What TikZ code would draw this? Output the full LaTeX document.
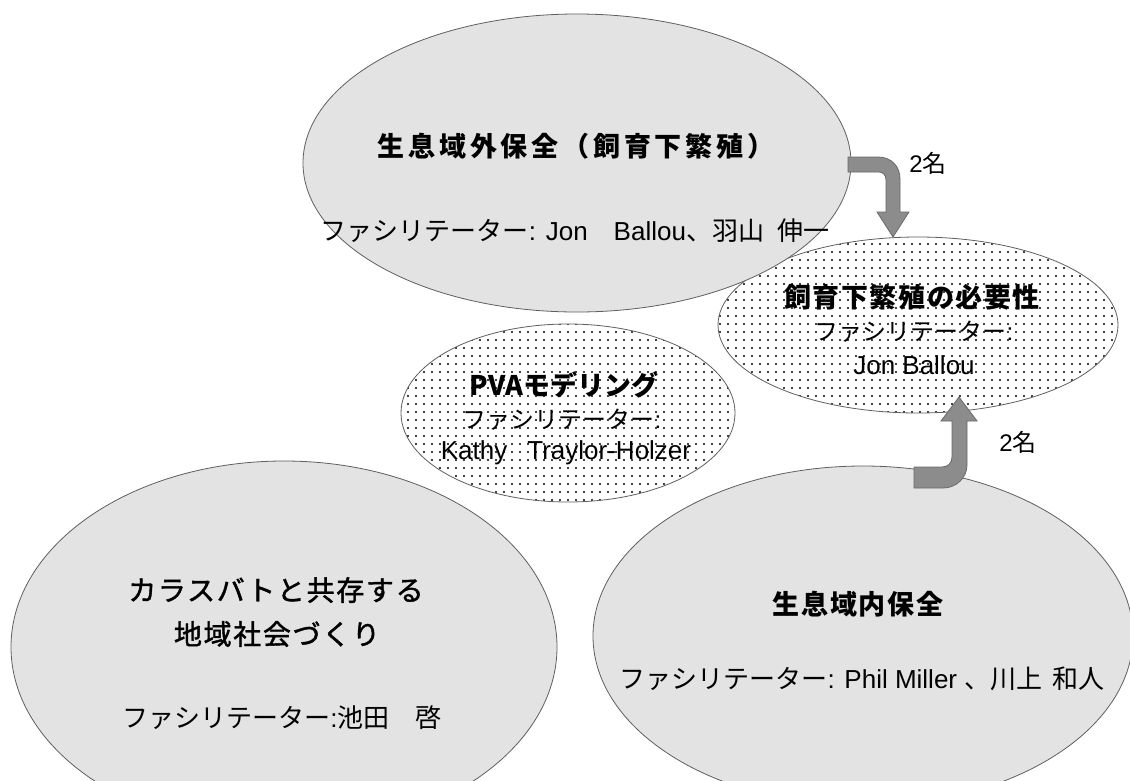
\documentclass[tikz,border=0pt]{standalone}
\usepackage{fontspec}
\setmainfont{Liberation Sans}
\newfontfamily\jp{Noto Sans CJK JP}
\newfontfamily\jpsp[LetterSpace=14]{Noto Sans CJK JP}
\newfontfamily\jpsm[LetterSpace=6]{Noto Sans CJK JP}
\newfontfamily\jpmed[LetterSpace=6,FakeBold=1.5]{Noto Sans CJK JP}
\usetikzlibrary{shapes.geometric,patterns.meta}
\definecolor{ellfill}{RGB}{227,227,227}
\definecolor{ellline}{RGB}{95,95,95}
\definecolor{arrfill}{RGB}{140,140,140}
\definecolor{arrline}{RGB}{105,105,105}
\tikzset{
  grayell/.style={ellipse, draw=ellline, line width=0.8pt, fill=ellfill, inner sep=0pt},
  dotell/.style={ellipse, draw=ellline, line width=0.8pt, inner sep=0pt,
    preaction={fill=white}, pattern={Dots[distance=8pt, radius=1.1pt]}},
  bigarrow/.style={draw=arrline, line width=0.8pt, fill=arrfill},
  txt/.style={inner sep=0pt, anchor=center, text=black},
}
\begin{document}
\begin{tikzpicture}[x=1pt,y=-1pt]
\useasboundingbox (0,0) rectangle (1130,780);
\fill[white] (0,0) rectangle (1130,780);
% ellipses
\node[dotell, minimum width=400pt, minimum height=176pt] (need) at (918,325) {};
\node[grayell, minimum width=548pt, minimum height=298pt] (ex) at (577,163) {};
\node[dotell, minimum width=334pt, minimum height=178pt] (pva) at (568,413) {};
\node[grayell, minimum width=546pt, minimum height=372pt] (com) at (284,647) {};
\node[grayell, minimum width=540pt, minimum height=340pt] (in) at (863,636) {};
% arrows
\draw[bigarrow] (848,157) -- (878,157) .. controls (891,157) and (900,166) .. (900,179)
  -- (900,212) -- (909,212) -- (893,237) -- (877,212) -- (886,212) -- (886,180)
  .. controls (886,175) and (883,172) .. (879,172) -- (848,172) -- cycle;
\draw[bigarrow] (914,467) -- (942,467) .. controls (948,467) and (952,463) .. (952,457)
  -- (952,421) -- (941,421) -- (959,397) -- (977,421) -- (967,421) -- (967,465)
  .. controls (967,478) and (956,488) .. (943,488) -- (914,488) -- cycle;
% texts: top ellipse
\node[txt, font={\jpsp\bfseries\fontsize{27}{30}\selectfont}] (exT) at (576,146) {生息域外保全（飼育下繁殖）};
\node[txt, font={\fontsize{26}{30}\selectfont}] (exF) at (575,231) {{\jp ファシリテーター}: Jon\hspace{26pt}Ballou{\jp 、羽山\hspace{13pt}伸一}};
% need
\node[txt, font={\jpsm\bfseries\fontsize{27}{30}\selectfont}] (needT) at (912,297) {飼育下繁殖の必要性};
\node[txt, font={\fontsize{24}{28}\selectfont}] (needF) at (914,332) {{\jp ファシリテーター}:};
\node[txt, font={\fontsize{26}{30}\selectfont}] (needN) at (914,365) {Jon Ballou};
% pva
\node[txt, font={\jp\bfseries\fontsize{27}{30}\selectfont}] (pvaT) at (564,385) {PVAモデリング};
\node[txt, font={\fontsize{24}{28}\selectfont}] (pvaF) at (562,420) {{\jp ファシリテーター}:};
\node[txt, font={\fontsize{26}{30}\selectfont}] (pvaN) at (566,453) {Kathy\hspace{20pt}Traylor-Holzer};
% community
\node[txt, font={\jpmed\fontsize{28}{30}\selectfont}] (comT1) at (276,590) {カラスバトと共存する};
\node[txt, font={\jpmed\fontsize{28}{30}\selectfont}] (comT2) at (277,634) {地域社会づくり};
\node[txt, font={\fontsize{26}{30}\selectfont}] (comF) at (282,718) {{\jp ファシリテーター}:{\jp 池田　啓}};
% in situ
\node[txt, font={\jpsm\bfseries\fontsize{27}{30}\selectfont}] (inT) at (858,604) {生息域内保全};
\node[txt, font={\fontsize{26}{30}\selectfont}] (inF) at (862,679) {{\jp ファシリテーター}: Phil Miller {\jp 、川上\hspace{10pt}和人}};
% counts
\node[txt, font={\fontsize{24}{28}\selectfont}] (c1) at (928,163) {2{\jp 名}};
\node[txt, font={\fontsize{24}{28}\selectfont}] (c2) at (1018,442) {2{\jp 名}};
\end{tikzpicture}
\end{document}
